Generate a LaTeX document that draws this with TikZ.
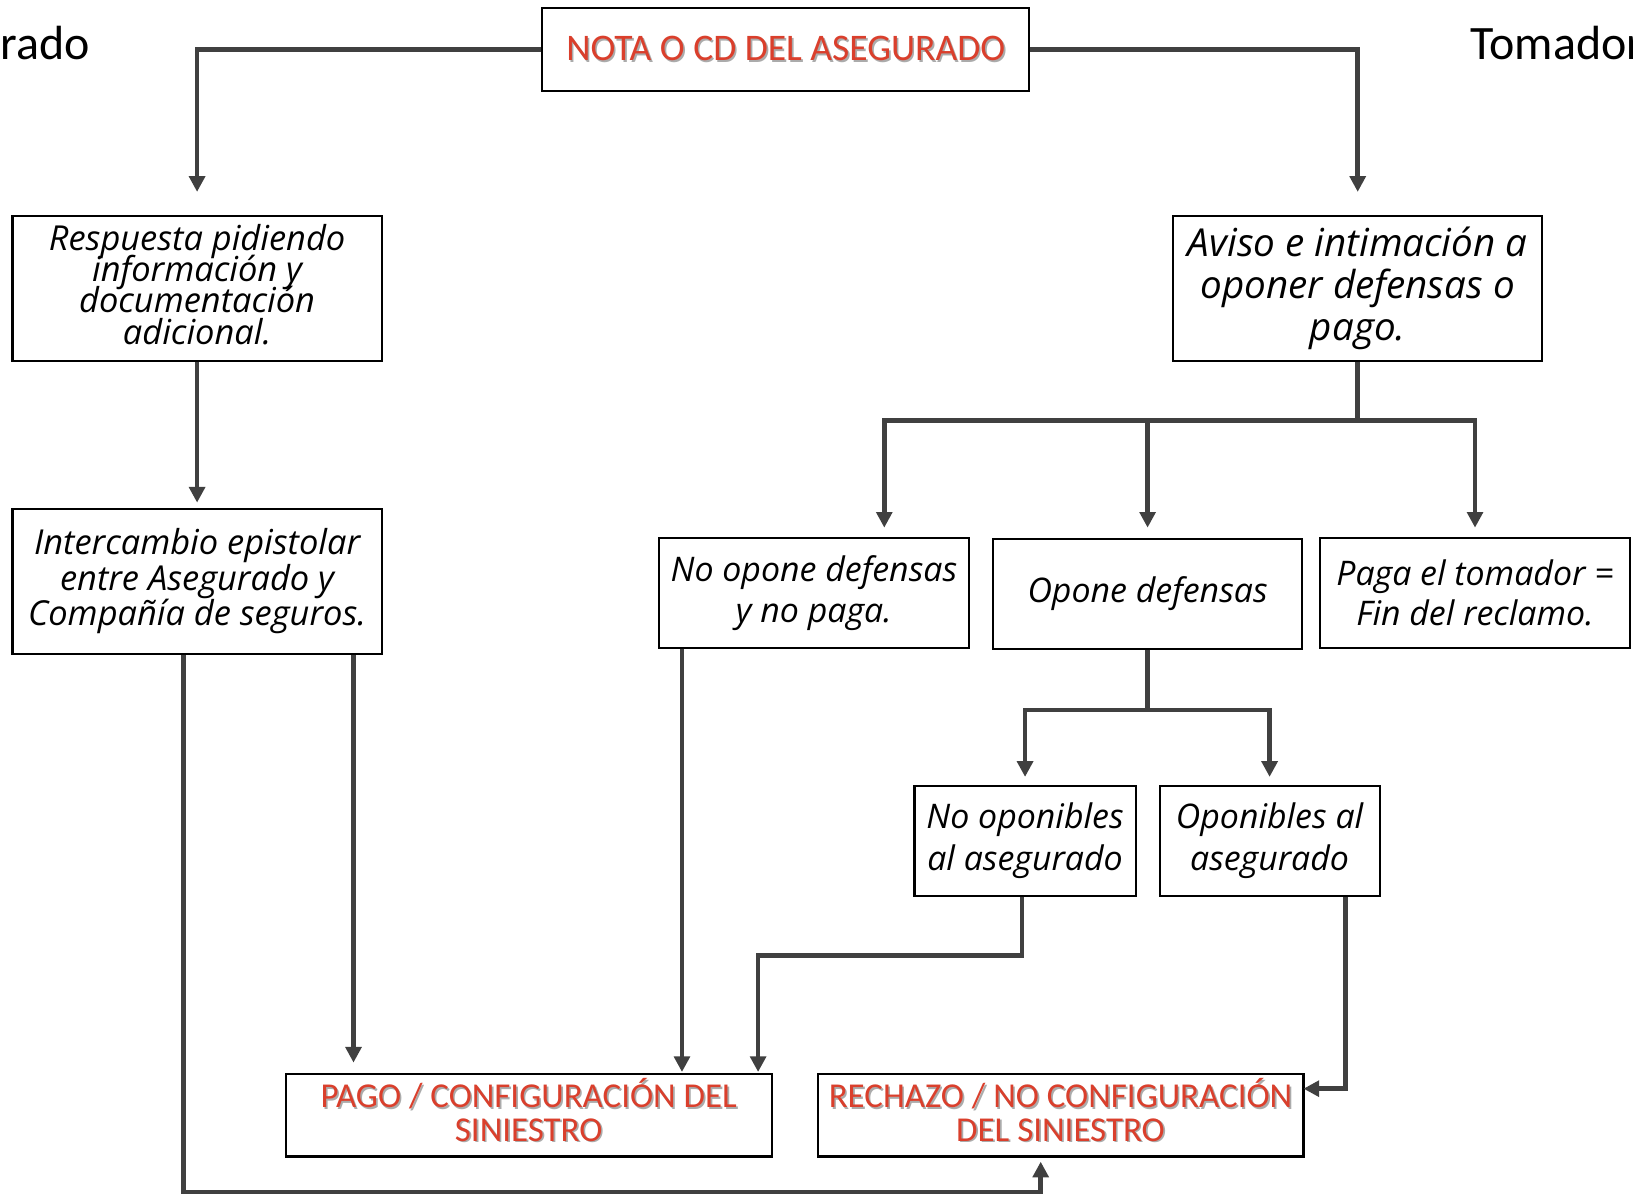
\documentclass[tikz,border=0pt]{standalone}
\usepackage{fontspec}
\setmainfont{Carlito}
\newfontfamily\osans{Open Sans}
\usetikzlibrary{arrows.meta,calc}
\definecolor{conn}{HTML}{404040}
\definecolor{redt}{HTML}{DA3F2C}
\definecolor{shad}{HTML}{ABABAB}
\newcommand{\shtext}[1]{\leavevmode\rlap{\hspace{1.6pt}\raisebox{-1.6pt}{\textcolor{shad}{#1}}}\textcolor{redt}{#1}}
\newcommand{\tightls}{\setlength{\lineskiplimit}{-40pt}}
\begin{document}
\begin{tikzpicture}[x=1pt,y=-1pt,
  box/.style={draw=black,line width=2pt,fill=white,inner sep=0pt,align=center},
  line/.style={draw=conn,line width=4.5pt},
  arr/.style={draw=conn,line width=4.5pt,-{Triangle[length=15pt,width=15pt]}},
  side/.style={font=\fontsize{46}{50}\selectfont}]
\fill[white] (0,0) rectangle (1566,1145);
\useasboundingbox (0,0) rectangle (1566,1145);

\begin{scope}
\clip (0,0) rectangle (1566,1145);
\node[side,anchor=base east,inner sep=0pt] (aseg) at (86,57) {Asegurado};
\node[side,anchor=base west,inner sep=0pt] (toma) at (1410,57) {Tomador};
\end{scope}

% boxes
\node[box,minimum width=467pt,minimum height=79pt,font=\fontsize{36}{38}\selectfont] (nota) at (753.5,47.5) {\shtext{NOTA O CD DEL ASEGURADO}};
\node[box,minimum width=354pt,minimum height=139pt,font=\osans\itshape\fontsize{33}{30}\selectfont\tightls] (resp) at (189,276.5) {Respuesta pidiendo\\información y\\documentación\\adicional.\rule[-8pt]{0pt}{8pt}};
\node[box,minimum width=354pt,minimum height=139pt,font=\osans\itshape\fontsize{37}{40}\selectfont] (aviso) at (1302,276.5) {Aviso e intimación a\\oponer defensas o\\pago.};
\node[box,minimum width=354pt,minimum height=139pt,font=\osans\itshape\fontsize{33}{34}\selectfont] (inter) at (189,557.5) {Intercambio epistolar\\entre Asegurado y\\Compañía de seguros.};
\node[box,minimum width=297pt,minimum height=105pt,font=\osans\itshape\fontsize{32.5}{39}\selectfont] (noopone) at (780.5,568.5) {No opone defensas\\y no paga.};
\node[box,minimum width=297pt,minimum height=105pt,font=\osans\itshape\fontsize{32.5}{38}\selectfont] (opone) at (1100.5,569.5) {Opone defensas};
\node[box,minimum width=297pt,minimum height=105pt,font=\osans\itshape\fontsize{32.5}{38}\selectfont] (paga) at (1414.5,568.5) {Paga el tomador =\\Fin del reclamo.};
\node[box,minimum width=212pt,minimum height=105pt,font=\osans\itshape\fontsize{32.5}{40}\selectfont] (noopon) at (983,806.5) {No oponibles\\al asegurado};
\node[box,minimum width=211pt,minimum height=105pt,font=\osans\itshape\fontsize{32.5}{40}\selectfont] (opon) at (1217.5,806.5) {Oponibles al\\asegurado};
\node[box,minimum width=466pt,minimum height=79pt,font=\fontsize{33.5}{32}\selectfont] (pago) at (507,1069.5) {\shtext{PAGO / CONFIGURACIÓN DEL}\\\shtext{SINIESTRO}\rule[-10pt]{0pt}{10pt}};
\node[box,minimum width=466pt,minimum height=79pt,font=\fontsize{33.5}{32}\selectfont] (rech) at (1017,1069.5) {\shtext{RECHAZO / NO CONFIGURACIÓN}\\\shtext{DEL SINIESTRO}\rule[-10pt]{0pt}{10pt}};

% helper coordinates
\coordinate (yA) at (0,403);
\coordinate (yB) at (0,681);
\coordinate (yC) at (0,916);
\coordinate (yD) at (0,1143);
\coordinate (hubA) at (aviso.south |- yA);
\coordinate (hubB) at (opone.south |- yB);
\coordinate (nA) at ($(noopone.north)+(67.5,0)$);
\coordinate (i1) at ($(inter.south)+(-13,0)$);
\coordinate (i2) at ($(inter.south)+(150,0)$);
\coordinate (r1) at ($(rech.south)+(-19,0)$);
\coordinate (n1) at ($(noopone.south)+(-126.5,0)$);
\coordinate (m1) at ($(noopon.south)+(-3,0)$);
\coordinate (p1) at ($(pago.north)+(220,0)$);
\coordinate (o1) at ($(opon.south)+(72.5,0)$);
\coordinate (re1) at ($(rech.east)+(0,-25.5)$);

% connectors
\draw[arr,shorten >=22pt] (nota.west) -| (resp.north);
\draw[arr,shorten >=22pt] (nota.east) -| (aviso.north);
\draw[arr,shorten >=5pt] (resp.south) -- (inter.north);
\draw[line] (aviso.south) -- (hubA);
\draw[arr,shorten >=9pt] (hubA) -| (nA);
\draw[arr,shorten >=10pt] (hubA) -| (opone.north);
\draw[arr,shorten >=9pt] (hubA) -| (paga.north);
\draw[line] (opone.south) -- (hubB);
\draw[arr,shorten >=8pt] (hubB) -| (noopon.north);
\draw[arr,shorten >=8pt] (hubB) -| (opon.north);
\draw[arr,shorten >=4pt] (i1) -- (i1 |- yD) -| (r1);
\draw[arr,shorten >=10pt] (i2) -- (i2 |- pago.north);
\draw[arr,shorten >=1pt] (n1) -- (n1 |- pago.north);
\draw[arr,shorten >=1pt] (m1) -- (m1 |- yC) -| (p1);
\draw[arr,shorten >=-1pt] (o1) |- (re1);
\end{tikzpicture}
\end{document}
